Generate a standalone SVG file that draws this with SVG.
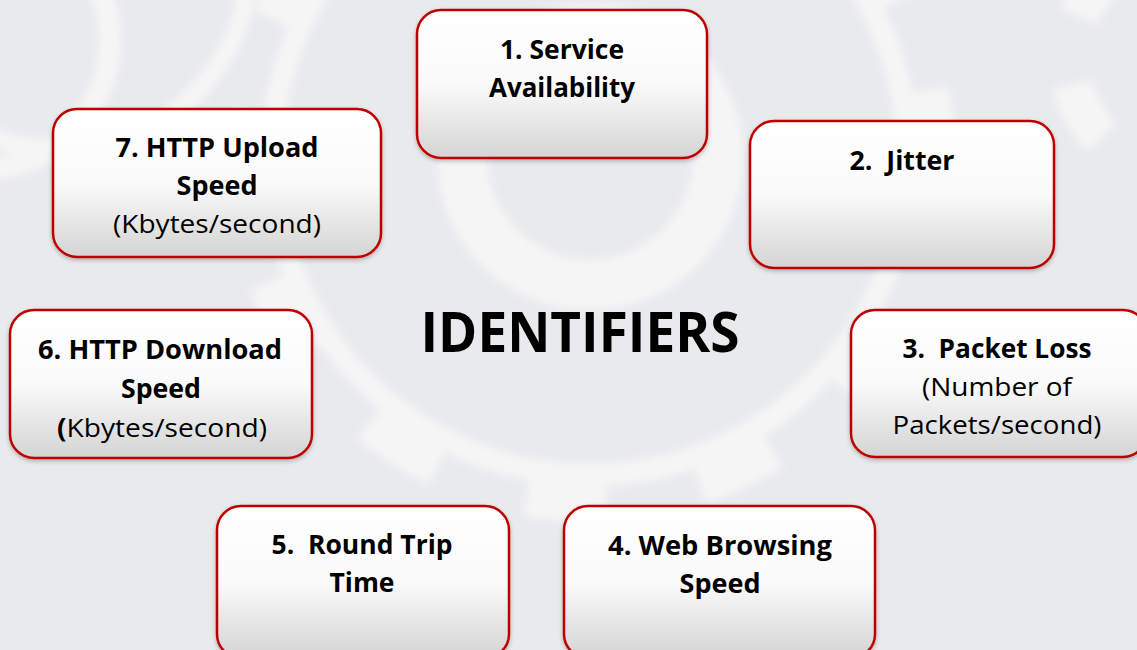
<svg xmlns="http://www.w3.org/2000/svg" width="1137" height="650" viewBox="0 0 1137 650">
  <style>
    .box { fill: url(#boxFill); stroke: #c00000; stroke-width: 2.5; filter: url(#shadow); }
    .t { font-family: "Open Sans", "Liberation Sans", sans-serif; font-size: 26px; fill: #000; text-anchor: middle; }
    .b { font-weight: bold; }
    .title { font-family: "Open Sans", "Liberation Sans", sans-serif; font-size: 56px; font-weight: bold; fill: #000; text-anchor: middle; }
    .wm { fill: none; stroke: #f7f7f8; }
  </style>
  <defs>
    <linearGradient id="boxFill" x1="0" y1="0" x2="0" y2="1">
      <stop offset="0" stop-color="#ffffff"/>
      <stop offset="0.5" stop-color="#fafafa"/>
      <stop offset="1" stop-color="#d4d4d4"/>
    </linearGradient>
    <filter id="shadow" x="-10%" y="-10%" width="120%" height="130%">
      <feDropShadow dx="0" dy="2" stdDeviation="2" flood-color="#000" flood-opacity="0.25"/>
    </filter>
    <filter id="soft" x="-20%" y="-20%" width="140%" height="140%">
      <feGaussianBlur stdDeviation="4"/>
    </filter>
  </defs>

  <!-- backdrop with faint gear watermark -->
  <rect width="1137" height="650" fill="#e9eaec"/>
  <g id="watermark" filter="url(#soft)" opacity="0.9">
    <circle class="wm" cx="590" cy="157" r="128" stroke-width="50"/>
    <circle class="wm" cx="590" cy="157" r="318" stroke-width="22"/>
    <circle class="wm" cx="590" cy="157" r="345" stroke-width="40" stroke-dasharray="80 95"/>
    <circle class="wm" cx="-20" cy="40" r="130" stroke-width="22"/>
    <circle class="wm" cx="60" cy="-40" r="190" stroke-width="18"/>
    <circle class="wm" cx="1180" cy="60" r="110" stroke-width="40" stroke-dasharray="60 70"/>
  </g>

  <!-- connectors: none drawn -->
  <g id="connectors"/>

  <g id="node-1">
    <rect class="box" x="417" y="10" width="290" height="148" rx="24"/>
    <text class="t b" x="562" y="59" textLength="124" lengthAdjust="spacingAndGlyphs">1. Service</text>
    <text class="t b" x="562" y="97" textLength="146" lengthAdjust="spacingAndGlyphs">Availability</text>
  </g>

  <g id="node-2">
    <rect class="box" x="750" y="121" width="304" height="147" rx="24"/>
    <text class="t b" x="902" y="170" xml:space="preserve" textLength="105" lengthAdjust="spacingAndGlyphs">2.  Jitter</text>
  </g>

  <g id="node-3">
    <rect class="box" x="851" y="310" width="296" height="147" rx="24"/>
    <text class="t b" x="997" y="358" xml:space="preserve" textLength="189" lengthAdjust="spacingAndGlyphs">3.  Packet Loss</text>
    <text class="t" x="997" y="396" textLength="150" lengthAdjust="spacingAndGlyphs">(Number of</text>
    <text class="t" x="997" y="434" textLength="209" lengthAdjust="spacingAndGlyphs">Packets/second)</text>
  </g>

  <g id="node-4">
    <rect class="box" x="564" y="506" width="311" height="152" rx="24"/>
    <text class="t b" x="720" y="555" textLength="224" lengthAdjust="spacingAndGlyphs">4. Web Browsing</text>
    <text class="t b" x="720" y="593" textLength="81" lengthAdjust="spacingAndGlyphs">Speed</text>
  </g>

  <g id="node-5">
    <rect class="box" x="217" y="506" width="292" height="152" rx="24"/>
    <text class="t b" x="362" y="554" xml:space="preserve" textLength="181" lengthAdjust="spacingAndGlyphs">5.  Round Trip</text>
    <text class="t b" x="362" y="592" textLength="65" lengthAdjust="spacingAndGlyphs">Time</text>
  </g>

  <g id="node-6">
    <rect class="box" x="10" y="310" width="302" height="148" rx="24"/>
    <text class="t b" x="160" y="359" textLength="244" lengthAdjust="spacingAndGlyphs">6. HTTP Download</text>
    <text class="t b" x="161" y="398" textLength="80" lengthAdjust="spacingAndGlyphs">Speed</text>
    <text class="t" x="162" y="437" textLength="210" lengthAdjust="spacingAndGlyphs"><tspan class="b">(</tspan>Kbytes/second)</text>
  </g>

  <g id="node-7">
    <rect class="box" x="53" y="109" width="328" height="148" rx="24"/>
    <text class="t b" x="217" y="157" textLength="203" lengthAdjust="spacingAndGlyphs">7. HTTP Upload</text>
    <text class="t b" x="217" y="195" textLength="81" lengthAdjust="spacingAndGlyphs">Speed</text>
    <text class="t" x="217" y="233" textLength="208" lengthAdjust="spacingAndGlyphs">(Kbytes/second)</text>
  </g>

  <g id="title">
    <text class="title" x="580" y="352" textLength="319" lengthAdjust="spacingAndGlyphs">IDENTIFIERS</text>
  </g>
</svg>
